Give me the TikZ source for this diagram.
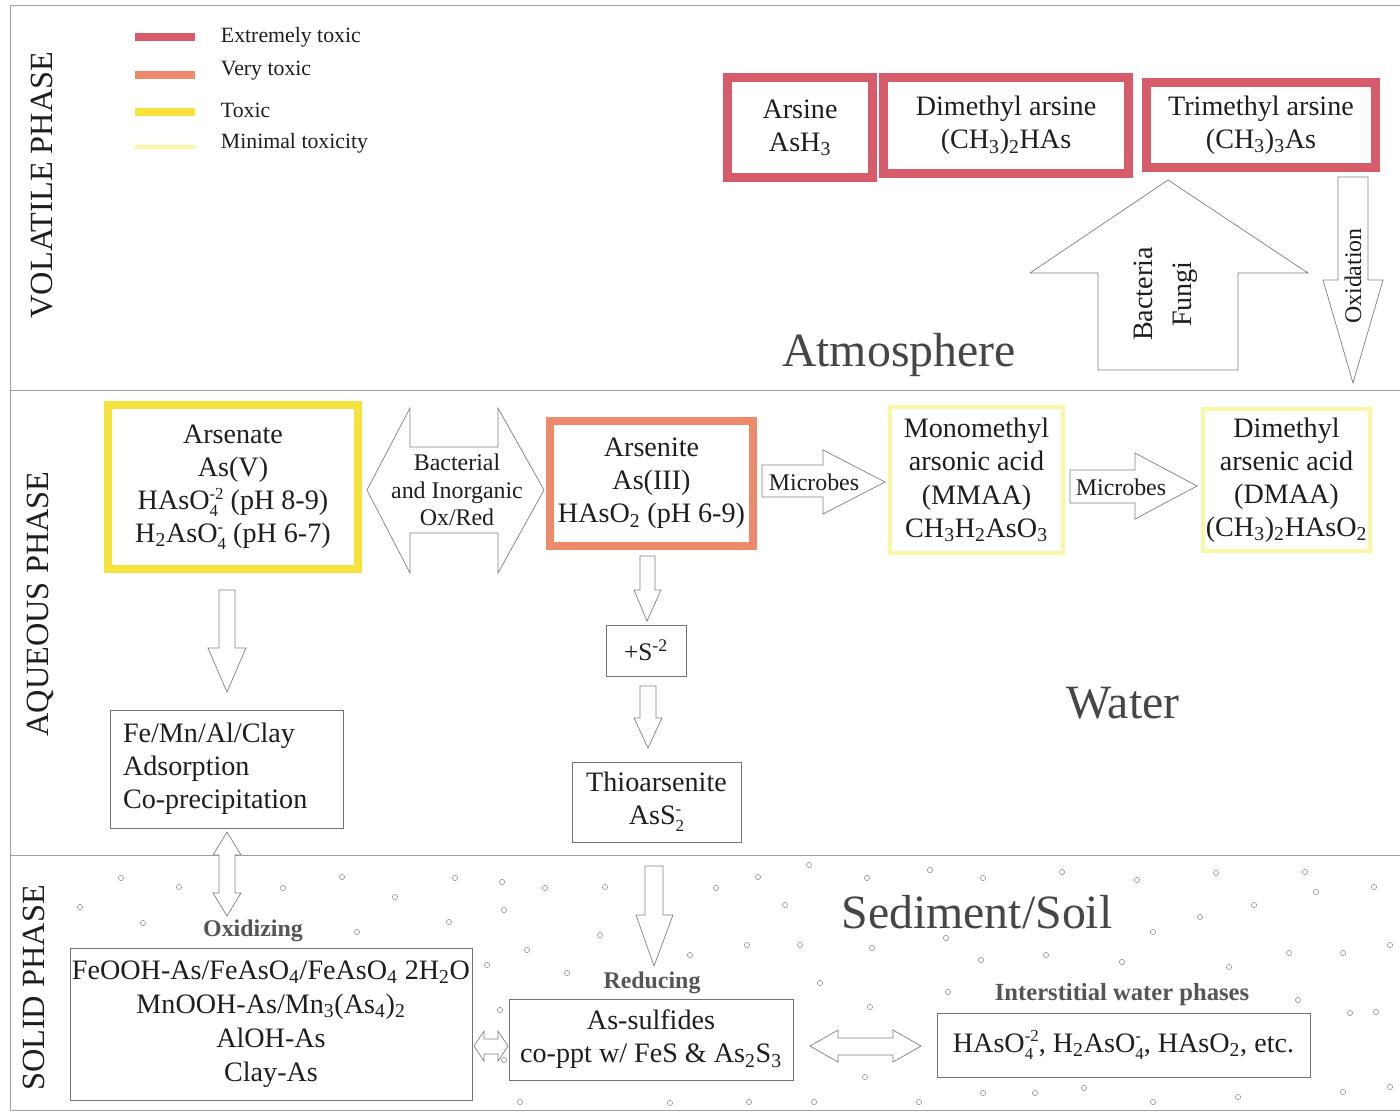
\documentclass[tikz,border=0pt]{standalone}
\usepackage{fontspec}
\setmainfont{Liberation Serif}
\newlength\pxu
\setlength\pxu{0.025cm}
\definecolor{xred}{RGB}{214,92,108}
\definecolor{xorange}{RGB}{238,138,108}
\definecolor{xyellow}{RGB}{245,226,60}
\definecolor{xlight}{RGB}{250,246,165}
\definecolor{txt}{RGB}{30,30,30}
\definecolor{labgray}{RGB}{70,70,70}
\definecolor{boldgray}{RGB}{85,85,85}
\definecolor{linegray}{RGB}{160,160,160}
\newcommand\chss[2]{\begingroup\setbox0=\hbox{\raisebox{0.36em}{\fontsize{12}{12}\selectfont #2}}\setbox2=\hbox{\raisebox{-0.26em}{\fontsize{12}{12}\selectfont #1}}\ifdim\wd0>\wd2 \rlap{\box2}\box0\else\rlap{\box0}\box2\fi\endgroup}
\begin{document}
\begin{tikzpicture}[x=0.025cm,y=-0.025cm,
  frameline/.style={draw=linegray,line width=0.6pt},
  mainfont/.style={font=\fontsize{20}{23.5}\selectfont,text=txt},
  colbox/.style={mainfont,fill=white,inner sep=0pt,align=center},
  redbox/.style={colbox,draw=xred,line width=9\pxu},
  yelbox/.style={colbox,draw=xyellow,line width=8\pxu},
  orbox/.style={colbox,draw=xorange,line width=8\pxu},
  ltbox/.style={colbox,draw=xlight,line width=4\pxu},
  thinbox/.style={mainfont,fill=white,draw=black!55,line width=0.6pt,inner sep=0pt,align=center},
  blk/.style={draw=black!50,line width=0.5pt,fill=white,line join=miter},
  arrtext/.style={font=\fontsize{17}{19}\selectfont,text=txt,align=center},
  biglab/.style={font=\fontsize{34}{40}\selectfont,text=labgray},
  phaselab/.style={rotate=90,font=\fontsize{23}{26}\selectfont,text=txt},
  boldlab/.style={font=\fontsize{17}{20}\selectfont\bfseries,text=boldgray},
  legtext/.style={font=\fontsize{15.5}{18}\selectfont,text=txt,anchor=west},
  dot/.style={draw=black!45,line width=0.4pt,fill=white}
]
\useasboundingbox (0,0) rectangle (1400,1114);
\fill[white] (0,0) rectangle (1400,1114);

% frame
\draw[frameline] (10,5) -- (1400,5);
\draw[frameline] (10,5) -- (10,1110);
\draw[frameline] (10,390) -- (1400,390);
\draw[frameline] (10,855) -- (1400,855);
\draw[frameline] (10,1110) -- (1400,1110);

% phase labels
\node[phaselab] (pv) at (42,185) {VOLATILE PHASE};
\node[phaselab] (pa) at (40,604) {AQUEOUS PHASE};
\node[phaselab] (ps) at (34,988) {SOLID PHASE};

% legend
\node[fill=xred,inner sep=0pt,minimum width=60\pxu,minimum height=8\pxu] (lg1) at (165,37) {};
\node[fill=xorange,inner sep=0pt,minimum width=60\pxu,minimum height=8\pxu] (lg2) at (165,75) {};
\node[fill=xyellow,inner sep=0pt,minimum width=60\pxu,minimum height=8\pxu] (lg3) at (165,112) {};
\node[fill=xlight,inner sep=0pt,minimum width=60\pxu,minimum height=4\pxu] (lg4) at (165,147) {};
\node[legtext] (lt1) at (216,37) {Extremely toxic};
\node[legtext] (lt2) at (216,71) {Very toxic};
\node[legtext] (lt3) at (216,110) {Toxic};
\node[legtext] (lt4) at (216,143) {Minimal toxicity};

% dots in solid phase
\foreach \p in {(121,878),(179,887),(80,907),(143,923),(283,888),(342,877),(395,897),(449,922),(357,932),(455,878),(502,882),(545,888),(504,910),(605,887),(600,935),(527,950),(487,965),(567,973),(500,1010),(504,1060),(520,1102),(670,1103),(690,955),
  (716,888),(758,877),(809,865),(785,905),(867,878),(930,870),(983,878),(1062,872),(1137,880),(1216,873),(1305,872),(1374,887),(1316,892),(1254,905),(1200,917),(1153,932),(946,938),(747,945),(800,945),(872,948),(981,960),(1046,955),(1122,962),(1229,967),(1289,953),(1343,953),(1390,945),(820,983),(948,992),(870,1007),(1298,1000),(1350,1013),(1376,1012),(865,1077),(749,1102),(814,1102),(919,1102),(983,1093),(1035,1093),(1084,1088),(1153,1102),(1238,1097),(1343,1092),(1390,1087)}
  \draw[dot] \p circle[radius=2.6];

% volatile phase
\node[redbox,minimum width=145\pxu,minimum height=100\pxu] (arsine) at (800,127.5) {Arsine\\AsH\textsubscript{3}};
\node[redbox,minimum width=245\pxu,minimum height=96\pxu] (dma) at (1006,125.5) {Dimethyl arsine\\(CH\textsubscript{3})\textsubscript{2}HAs};
\node[redbox,minimum width=229\pxu,minimum height=85\pxu] (tma) at (1261,125) {Trimethyl arsine\\(CH\textsubscript{3})\textsubscript{3}As};

\draw[blk] (1098,370) -- (1238,370) -- (1238,273) -- (1308,273) -- (1168,180) -- (1030,273) -- (1098,273) -- cycle;
\node[rotate=90,align=center,font=\fontsize{20}{28}\selectfont,text=txt] (bf) at (1166,294) {Bacteria\\Fungi};
\draw[blk] (1338,177) -- (1368,177) -- (1368,280) -- (1383,280) -- (1353,383) -- (1323,280) -- (1338,280) -- cycle;
\node[rotate=90,arrtext] (ox) at (1353,276) {Oxidation};

\node[biglab] (atm) at (899,355) {Atmosphere};

% aqueous phase
\node[yelbox,minimum width=250\pxu,minimum height=164\pxu] (arsenate) at (233,487) {Arsenate\\As(V)\\HAsO\chss{4}{-2} (pH 8-9)\\H\textsubscript{2}AsO\chss{4}{-} (pH 6-7)};
\draw[blk] (367,490) -- (410,408) -- (410,447) -- (498,447) -- (498,408) -- (544,490) -- (498,573) -- (498,533) -- (410,533) -- (410,573) -- cycle;
\node[arrtext,font=\fontsize{17}{19.5}\selectfont] (oxred) at (457,490) {Bacterial\\and Inorganic\\Ox/Red};
\node[orbox,minimum width=203\pxu,minimum height=125\pxu] (arsenite) at (651.5,483.5) {Arsenite\\As(III)\\HAsO\textsubscript{2} (pH 6-9)};
\draw[blk] (762,465) -- (823,465) -- (823,450) -- (885,482) -- (823,514) -- (823,497) -- (762,497) -- cycle;
\node[arrtext] (mic1) at (814,482) {Microbes};
\node[ltbox,minimum width=173\pxu,minimum height=146\pxu] (mmaa) at (976.5,480) {Monomethyl\\arsonic acid\\(MMAA)\\CH\textsubscript{3}H\textsubscript{2}AsO\textsubscript{3}};
\draw[blk] (1070,470) -- (1135,470) -- (1135,453) -- (1197,486) -- (1135,519) -- (1135,503) -- (1070,503) -- cycle;
\node[arrtext] (mic2) at (1121,487) {Microbes};
\node[ltbox,minimum width=167\pxu,minimum height=142\pxu] (dmaa) at (1286.5,480) {Dimethyl\\arsenic acid\\(DMAA)\\(CH\textsubscript{3})\textsubscript{2}HAsO\textsubscript{2}};

\draw[blk] (219,590) -- (235,590) -- (235,648) -- (246,648) -- (227,692) -- (208,648) -- (219,648) -- cycle;
\node[thinbox,align=left,text width=207\pxu,inner xsep=13\pxu,minimum height=118\pxu] (femn) at (226.5,769) {Fe/Mn/Al/Clay\\Adsorption\\Co-precipitation};

\draw[blk] (640,556) -- (655,556) -- (655,590) -- (661,590) -- (647,621) -- (634,590) -- (640,590) -- cycle;
\node[thinbox,font=\fontsize{18}{20}\selectfont,minimum width=80\pxu,minimum height=51\pxu] (sulf) at (646,650.5) {+S\textsuperscript{-2}};
\draw[blk] (640,686) -- (656,686) -- (656,718) -- (662,718) -- (648,748) -- (634,718) -- (640,718) -- cycle;
\node[thinbox,minimum width=169\pxu,minimum height=80\pxu] (thio) at (656.5,802) {Thioarsenite\\AsS\chss{2}{-}};

\node[biglab] (water) at (1123,703) {Water};

% solid phase
\draw[blk] (227,832) -- (241,855) -- (235,855) -- (235,893) -- (241,893) -- (227,916) -- (213,893) -- (219,893) -- (219,855) -- (213,855) -- cycle;
\node[boldlab] (oxz) at (253,931) {Oxidizing};
\node[thinbox,font=\fontsize{20}{24.2}\selectfont,minimum width=402\pxu,minimum height=152\pxu] (oxbox) at (271,1024) {FeOOH-As/FeAsO\textsubscript{4}/FeAsO\textsubscript{4} 2H\textsubscript{2}O\\MnOOH-As/Mn\textsubscript{3}(As\textsubscript{4})\textsubscript{2}\\AlOH-As\\Clay-As};
\draw[blk] (474,1046) -- (484,1031) -- (484,1039) -- (498,1039) -- (498,1031) -- (508,1046) -- (498,1061) -- (498,1054) -- (484,1054) -- (484,1061) -- cycle;

\draw[blk] (645,866) -- (663,866) -- (663,915) -- (673,915) -- (654,966) -- (636,915) -- (645,915) -- cycle;
\node[boldlab] (redz) at (652,983) {Reducing};
\node[thinbox,minimum width=284\pxu,minimum height=81\pxu] (redbox) at (651,1039.5) {As-sulfides\\co-ppt w/ FeS \& As\textsubscript{2}S\textsubscript{3}};
\draw[blk] (810,1046) -- (838,1030) -- (838,1038) -- (893,1038) -- (893,1030) -- (921,1046) -- (893,1062) -- (893,1055) -- (838,1055) -- (838,1062) -- cycle;
\node[boldlab,font=\fontsize{17.5}{20}\selectfont\bfseries] (intz) at (1122,995) {Interstitial water phases};
\node[thinbox,minimum width=373\pxu,minimum height=64\pxu] (intbox) at (1123.5,1045) {HAsO\chss{4}{-2}, H\textsubscript{2}AsO\chss{4}{-}, HAsO\textsubscript{2}, etc.};

\node[biglab] (sed) at (977,912) {Sediment/Soil};
\end{tikzpicture}
\end{document}
